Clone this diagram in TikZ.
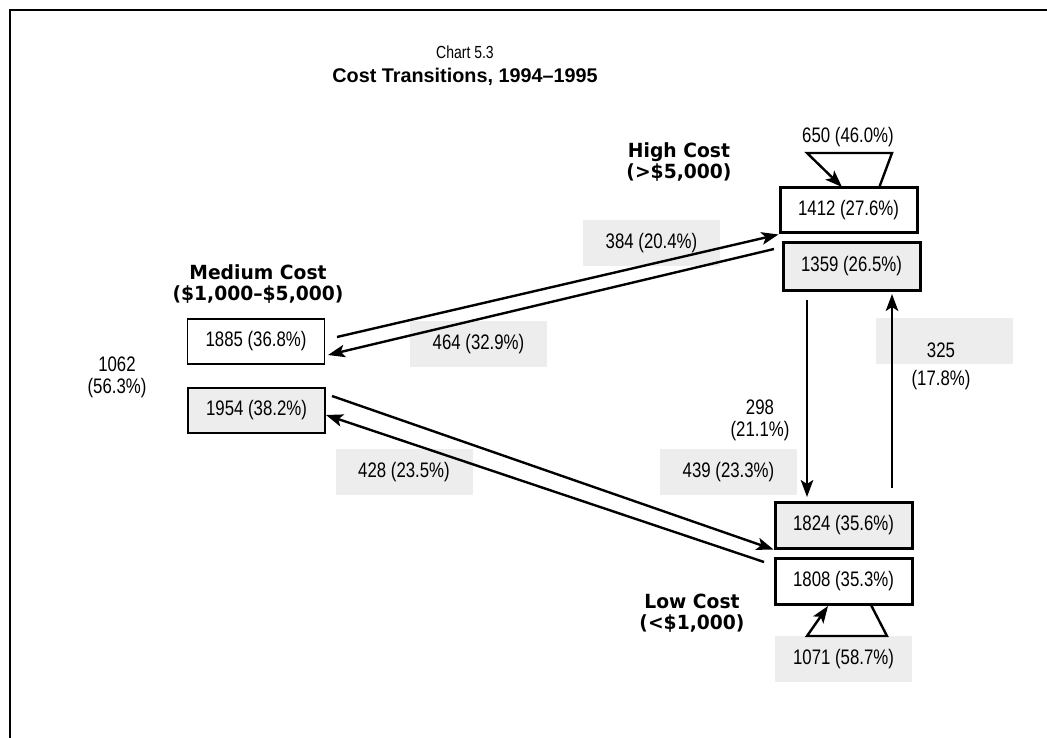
\documentclass[tikz,border=0pt]{standalone}
\usepackage{fontspec}
\setmainfont{Liberation Sans}
\newfontfamily\numf[FakeStretch=0.8]{Liberation Sans}
\newfontfamily\labf[FakeStretch=0.96]{DejaVu Sans}
\usetikzlibrary{arrows.meta}
\definecolor{grayfill}{HTML}{EDEDED}
\begin{document}
\begin{tikzpicture}[x=1pt,y=-1pt,
  num/.style={font=\numf\fontsize{21}{22}\selectfont, inner sep=0pt, align=center},
  lab/.style={font=\labf\bfseries\fontsize{19.5}{21}\selectfont, align=center, inner sep=0pt},
  box/.style={draw, num, minimum width=137pt, minimum height=45pt},
  thickbox/.style={box, line width=3pt},
  thinbox/.style={box, line width=1.4pt},
  shaded/.style={fill=grayfill},
  graylab/.style={fill=grayfill, num, minimum width=137pt, minimum height=46pt},
  arr/.style={line width=2.4pt, -{Stealth[length=17pt,width=12.5pt,inset=4pt]}},
]
\useasboundingbox (0,0) rectangle (1047,738);
% frame
\draw[line width=2.8pt] (10,738) -- (10,10) -- (1047,10);

% titles
\node[font=\numf\fontsize{17.5}{18}\selectfont, inner sep=0pt] (chart) at (465,52) {Chart 5.3};
\node[font=\bfseries\fontsize{19.8}{20}\selectfont, inner sep=0pt] (title) at (465,77) {Cost Transitions, 1994–1995};

% gray label boxes
\node[graylab] (g384) at (651.5,243) {384 (20.4\%)};
\node[graylab] (g464) at (478.5,344) {464 (32.9\%)};
\node[graylab] (g428) at (404,472) {428 (23.5\%)};
\node[graylab] (g439) at (728.5,472) {439 (23.3\%)};
\node[graylab] (g325) at (944.5,341) {};
\node[graylab] (g1071) at (843.5,659) {1071 (58.7\%)};

% state boxes
\node[thickbox] (hi1) at (848.5,210.5) {1412 (27.6\%)};
\node[thickbox,shaded,minimum height=47pt] (hi2) at (851.5,266.5) {1359 (26.5\%)};
\node[thinbox] (med1) at (256,341.5) {1885 (36.8\%)};
\node[thinbox,shaded] (med2) at (256.5,410.5) {1954 (38.2\%)};
\node[thickbox,shaded,minimum height=46pt] (lo1) at (843.5,525) {1824 (35.6\%)};
\node[thickbox,minimum height=46pt] (lo2) at (843.5,581) {1808 (35.3\%)};

% plain labels
\node[num] (t650) at (848,137) {650 (46.0\%)};
\node[lab] (lhi) at (679,162.5) {High Cost\\(>\$5,000)};
\node[lab] (lmed) at (258,284.5) {Medium Cost\\(\$1,000–\$5,000)};
\node[lab] (llo) at (692,613.5) {Low Cost\\(<\$1,000)};
\node[num] (t1062) at (117,377) {1062\\(56.3\%)};
\node[num] (t298) at (760,420.5) {298\\(21.1\%)};
\node[num] (t325a) at (941,350) {325};
\node[num] (t325b) at (941,380) {(17.8\%)};

% connector end points
\coordinate (a1s) at (337,337);
\coordinate (a2s) at (774,249);
\coordinate (a2e) at (328,355);
\coordinate (a3s) at (332,396);
\coordinate (a4s) at (764,562);
\coordinate (a4e) at (326,415);
\coordinate (a5s) at (807,300);
\coordinate (a5e) at (807,497);
\coordinate (a6s) at (892,488);
\coordinate (a6e) at (892,294);
\coordinate (l1a) at (879,188);
\coordinate (l1b) at (892,153);
\coordinate (l1c) at (807,153);
\coordinate (l1d) at (842,187);
\coordinate (l2a) at (871,605);
\coordinate (l2b) at (887,636);
\coordinate (l2c) at (807,636);
\coordinate (l2d) at (828,606);

% connectors
\draw[arr] (a1s) -- (hi1.south west);
\draw[arr] (a2s) -- (a2e);
\draw[arr] (a3s) -- (lo1.south west);
\draw[arr] (a4s) -- (a4e);
\draw[arr] (a5s) -- (a5e);
\draw[arr] (a6s) -- (a6e);
\draw[arr] (l1a) -- (l1b) -- (l1c) -- (l1d);
\draw[arr] (l2a) -- (l2b) -- (l2c) -- (l2d);
\end{tikzpicture}
\end{document}
